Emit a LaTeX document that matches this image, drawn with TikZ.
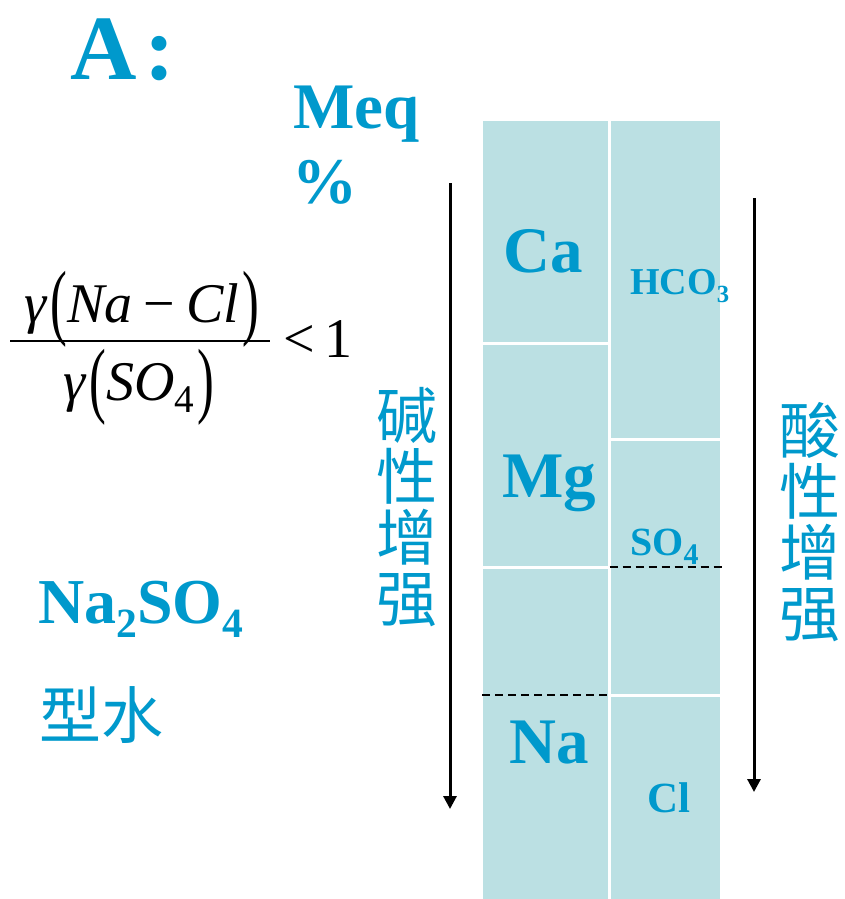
\documentclass[tikz,border=0pt]{standalone}
\usepackage{fontspec}
\setmainfont{Liberation Serif}
\newfontfamily\cjk{Noto Sans CJK SC}
\usetikzlibrary{arrows.meta}
\definecolor{ionblue}{RGB}{0,153,204}
\definecolor{cellfill}{RGB}{187,224,227}
\newcommand\ionsub[2][.7]{\raisebox{-.23em}{\scalebox{#1}{#2}}}
\newcommand\tallparen[1]{\raisebox{-.14em}{\scalebox{.9}[1.5]{#1}}}
\tikzset{
  bigion/.style={text=ionblue,inner sep=0pt,anchor=base west,font=\bfseries\fontsize{65}{65}\selectfont},
  smallion/.style={text=ionblue,inner sep=0pt,anchor=base west,font=\bfseries\fontsize{38}{38}\selectfont},
  hanzi/.style={text=ionblue,inner sep=0pt,align=center,font=\cjk\fontsize{61}{61}\selectfont},
  cutline/.style={black,line width=2.5pt,dash pattern=on 8pt off 5pt},
  trend/.style={black,line width=3pt,->}
}
\begin{document}
\begin{tikzpicture}[x=1pt,y=-1pt,line join=round,>={Triangle[length=13pt,width=13pt]}]
\useasboundingbox (0,0) rectangle (844,899);
% the two columns of ions
\fill[cellfill] (483,121) rectangle (720,899);
\draw[white,line width=3pt] (609.5,121) -- (609.5,899) (483,343) -- (609.5,343) (483,567) -- (609.5,567)
  (609.5,439) -- (720,439) (609.5,695) -- (720,695);
\draw[cutline] (482,695) -- (609.5,695) (609.5,567) -- (722,567);
\node[bigion] (ca) at (503,272) {Ca};
\node[bigion] (mg) at (502,497) {Mg};
\node[bigion] (na) at (509,763) {Na};
\node[smallion] (hco) at (630,294) {HCO\ionsub[.65]{3}};
\node[smallion,font=\bfseries\fontsize{40}{40}\selectfont] (so) at (630,555) {SO\ionsub[.75]{4}};
\node[smallion,font=\bfseries\fontsize{43}{43}\selectfont] (cl) at (647,812) {Cl};
% arrows beside the columns
\coordinate (base top) at (450,183);
\coordinate (base end) at (450,809);
\coordinate (acid top) at (754,198);
\coordinate (acid end) at (754,792);
\draw[trend] (base top) -- (base end);
\draw[trend] (acid top) -- (acid end);
\node[hanzi] (alkali) at (407,507) {碱\\性\\增\\强};
\node[hanzi] (acidity) at (810,522) {酸\\性\\增\\强};
% titles and the ratio
\node[bigion,font=\bfseries\fontsize{92}{92}\selectfont] (title) at (70,80) {A\kern8pt:};
\node[bigion] (meq) at (293,128) {Meq};
\node[bigion] (pct) at (292,203) {\%};
\node[inner sep=0pt,anchor=base,font=\itshape\fontsize{56}{56}\selectfont] (num) at (142,322)
  {γ\kern4pt\tallparen{\upshape(}Na\kern11pt\upshape−\kern11pt\itshape Cl\kern3pt\tallparen{\upshape)}};
\node[inner sep=0pt,anchor=base,font=\itshape\fontsize{56}{56}\selectfont] (den) at (139,400)
  {γ\kern4pt\tallparen{\upshape(}SO\ionsub[.7]{\upshape 4}\kern3pt\tallparen{\upshape)}};
\draw[line width=2pt] (10,341) -- (270,341);
\node[inner sep=0pt,anchor=base west,font=\fontsize{56}{56}\selectfont] (less) at (283,357) {<\,1};
%\node (lab) at (60,700) {};
\node[bigion,font=\bfseries\fontsize{64}{64}\selectfont] (salt) at (38,623) {Na\ionsub[.65]{2}SO\ionsub[.65]{4}};
\node[hanzi,anchor=base west,font=\cjk\fontsize{62}{62}\selectfont] (water) at (39,738) {型水};
\end{tikzpicture}
\end{document}
